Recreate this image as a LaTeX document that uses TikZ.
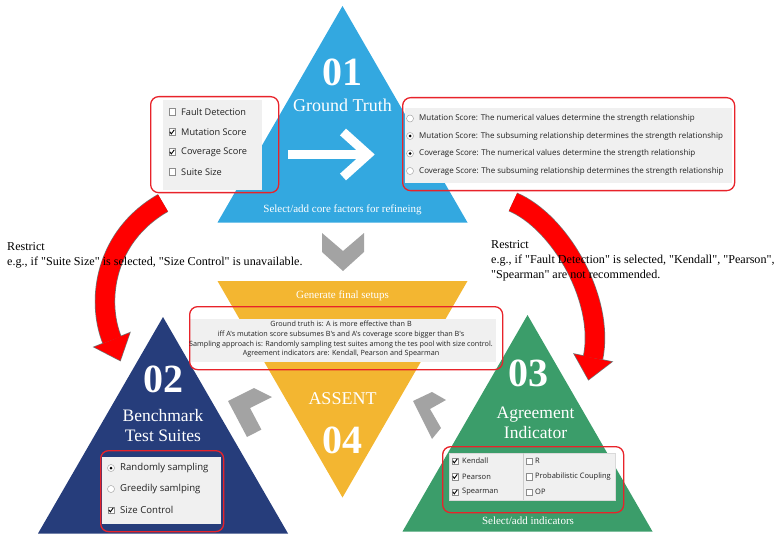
\documentclass[tikz,border=0pt]{standalone}
\usepackage{fontspec}
\setmainfont{Liberation Serif}
\newfontfamily\notefont{Liberation Serif}[Ligatures=TeXOff]
\newfontfamily\uifont{Open Sans}
\usetikzlibrary{calc}
\definecolor{gtblue}{HTML}{33A8E0}
\definecolor{asyellow}{HTML}{F3B631}
\definecolor{bnavy}{HTML}{263D7B}
\definecolor{aggreen}{HTML}{3B9D6A}
\definecolor{chevgray}{HTML}{A3A3A3}
\definecolor{panelgray}{HTML}{F0F0F0}
\definecolor{hlred}{HTML}{E8232A}
\definecolor{arrred}{HTML}{FF0000}
\definecolor{uitext}{HTML}{222222}
\tikzset{
  bignum/.style={text=white, font=\bfseries\fontsize{40}{40}\selectfont, inner sep=0pt},
  tritext/.style={text=white, font=\fontsize{17.5}{20}\selectfont, inner sep=0pt, align=center},
  foot/.style={text=white, font=\fontsize{11}{12}\selectfont, inner sep=0pt},
  panel/.style={fill=panelgray, draw=none, anchor=north west, inner sep=0pt, outer sep=0pt},
  hl/.style={draw=hlred, line width=1.3pt, rounded corners=8pt, anchor=north west, inner sep=0pt},
  item/.style={anchor=west, inner sep=0pt, text=uitext},
  lfont/.style={font=\uifont\fontsize{9.2}{10}\selectfont},
  rfont/.style={font=\uifont\fontsize{8}{9}\selectfont},
  bfont/.style={font=\uifont\fontsize{9.6}{11}\selectfont},
  afont/.style={font=\uifont\fontsize{7.5}{9}\selectfont},
  cbox/.style={draw=black!45, fill=white, minimum size=6.5pt, inner sep=0pt, line width=0.5pt},
  radio/.style={circle, draw=black!35, fill=white, minimum size=7pt, inner sep=0pt, line width=0.5pt},
  chev/.style={fill=chevgray, draw=none},
  note/.style={anchor=west, inner sep=0pt, font=\notefont\fontsize{12.1}{15}\selectfont, align=left},
  pics/tick/.style={code={\draw[line width=0.9pt, black] (-2.2,-0.2) -- (-0.7,1.9) -- (2.3,-2.2);}},
  pics/dot/.style={code={\fill[black] (0,0) circle (1.5pt);}},
}
\begin{document}
\begin{tikzpicture}[x=1pt,y=-1pt]
\useasboundingbox (0,0) rectangle (783,537);
% ---- triangles
\coordinate (gtA) at (342.5,6);   \coordinate (gtB) at (467.5,222.5); \coordinate (gtC) at (217.5,222.5);
\coordinate (asA) at (217.5,281); \coordinate (asB) at (467.5,281);   \coordinate (asC) at (342.5,497.5);
\coordinate (btA) at (163,317);   \coordinate (btB) at (288,533.5);   \coordinate (btC) at (38,533.5);
\coordinate (aiA) at (527.5,315); \coordinate (aiB) at (652.5,531.5); \coordinate (aiC) at (402.5,531.5);
\fill[gtblue] (gtA) -- (gtB) -- (gtC) -- cycle;
\fill[asyellow] (asA) -- (asB) -- (asC) -- cycle;
\fill[bnavy] (btA) -- (btB) -- (btC) -- cycle;
\fill[aggreen] (aiA) -- (aiB) -- (aiC) -- cycle;
% ---- triangle texts
\node[bignum] (n1) at (342.5,72) {01};
\node[tritext, font=\fontsize{18}{21}\selectfont] (gtl) at (342.5,105) {Ground Truth};
\node[foot] (gtf) at (342.5,210) {Select/add core factors for refineing};
\node[foot] (asf) at (342.5,296) {Generate final setups};
\node[tritext, font=\fontsize{18}{21}\selectfont] (asl) at (342.5,399) {ASSENT};
\node[bignum] (n4) at (342.5,440) {04};
\node[bignum] (n2) at (163,379) {02};
\node[tritext] (btl) at (163,426) {Benchmark\\Test Suites};
\node[bignum] (n3) at (528,373) {03};
\node[tritext] (ail) at (535.5,423) {Agreement\\Indicator};
\node[foot] (aif) at (528,521) {Select/add indicators};
% ---- white arrow inside 01
\coordinate (wa0) at (288,154.5); \coordinate (wa1) at (366,154.5);
\draw[white, line width=9.5pt] (wa0) -- (wa1);
\draw[white, line width=9pt, miter limit=10] (343,132) -- (368,154.5) -- (343,177);
% ---- gray chevrons
\fill[chev] (322,233) -- (343,251) -- (364,233) -- (364,252) -- (343,271) -- (322,252) -- cycle;
\fill[chev] (228,401) -- (254,388) -- (272,397) -- (250,408) -- (261.4,429.6) -- (247,437) -- cycle;
\fill[chev] (413,401) -- (432,392) -- (446,400) -- (430,409) -- (441,428) -- (432,439) -- cycle;
% ---- left panel (factors)
\node[panel, minimum width=99pt, minimum height=90pt] (lp) at (163,100) {};
\node[hl, minimum width=128pt, minimum height=96pt] (lh) at (150,96) {};
\node[cbox] (lc1) at (172,112) {}; \node[item, lfont] (lt1) at (181,112) {Fault Detection};
\node[cbox] (lc2) at (172,132) {}; \node[item, lfont] (lt2) at (181,132) {Mutation Score};
\node[cbox] (lc3) at (172,152) {}; \node[item, lfont] (lt3) at (181,152) {Coverage Score};
\node[cbox] (lc4) at (172,172) {}; \node[item, lfont] (lt4) at (181,172) {Suite Size};
\pic at (lc2.center) {tick}; \pic at (lc3.center) {tick};
% ---- right panel (strength relationship)
\node[panel, minimum width=327pt, minimum height=75pt] (rp) at (405,108) {};
\node[hl, minimum width=332pt, minimum height=93pt] (rh) at (402,97) {};
\node[radio] (rr1) at (410,118.5) {}; \node[item, rfont] (rt1) at (419,118.5) {Mutation Score: The numerical values determine the strength relationship};
\node[radio] (rr2) at (410,136) {};   \node[item, rfont] (rt2) at (419,136) {Mutation Score: The subsuming relationship determines the strength relationship};
\node[radio] (rr3) at (410,153.5) {}; \node[item, rfont] (rt3) at (419,153.5) {Coverage Score: The numerical values determine the strength relationship};
\node[radio] (rr4) at (410,171) {};   \node[item, rfont] (rt4) at (419,171) {Coverage Score: The subsuming relationship determines the strength relationship};
\pic at (rr2.center) {dot}; \pic at (rr3.center) {dot};
% ---- middle panel (final setups)
\node[panel, minimum width=306pt, minimum height=43pt] (mp) at (190,319) {};
\node[hl, minimum width=313pt, minimum height=63pt] (mh) at (189,306) {};
\node[text=uitext, inner sep=0pt, align=center, font=\uifont\fontsize{7.2}{9.7}\selectfont] (mt) at (341,339.5)
 {Ground truth is: A is more effective than B\\iff A's mutation score subsumes B's and A's coverage score bigger than B's\\Sampling approach is: Randomly sampling test suites among the tes pool with size control.\\Agreement indicators are: Kendall, Pearson and Spearman};
% ---- benchmark panel
\node[panel, minimum width=119pt, minimum height=67pt] (bp) at (102,457) {};
\node[hl, minimum width=123pt, minimum height=81pt] (bh) at (100,450) {};
\node[radio] (br1) at (111,468) {}; \node[item, bfont] (bt1) at (120,468) {Randomly sampling};
\node[radio] (br2) at (111,489) {}; \node[item, bfont] (bt2) at (120,489) {Greedily samlping};
\node[cbox] (bc3) at (111,510) {};  \node[item, bfont] (bt3) at (120,510) {Size Control};
\pic at (br1.center) {dot}; \pic at (bc3.center) {tick};
% ---- agreement panel
\node[panel, minimum width=166pt, minimum height=47pt, draw=black!15, line width=0.4pt] (ap) at (449,453) {};
\coordinate (apd1) at (523,453); \coordinate (apd2) at (523,500);
\draw[black!20, line width=0.5pt] (apd1) -- (apd2);
\node[hl, minimum width=181pt, minimum height=66pt] (ah) at (442,446) {};
\node[cbox] (ac1) at (455,461) {};   \node[item, afont] (at1) at (462,461) {Kendall};
\node[cbox] (ac2) at (455,476.5) {}; \node[item, afont] (at2) at (462,476.5) {Pearson};
\node[cbox] (ac3) at (455,492) {};   \node[item, afont] (at3) at (462,492) {Spearman};
\node[cbox] (ac4) at (529,461) {};   \node[item, afont] (at4) at (535,461) {R};
\node[cbox] (ac5) at (529,476.5) {}; \node[item, afont] (at5) at (535,476.5) {Probabilistic Coupling};
\node[cbox] (ac6) at (529,492) {};   \node[item, afont] (at6) at (535,492) {OP};
\pic at (ac1.center) {tick}; \pic at (ac2.center) {tick}; \pic at (ac3.center) {tick};
% ---- red curved arrows
\coordinate (la0) at (163,203); \coordinate (la1) at (105,236); \coordinate (la2) at (96,300); \coordinate (la3) at (112,340);
\coordinate (lw1) at ($(la3)!19pt!90:(la2)$); \coordinate (lw2) at ($(la3)!19pt!-90:(la2)$); \coordinate (ltip) at ($(la3)!-22pt!(la2)$);
\coordinate (ra0) at (513,202); \coordinate (ra1) at (560,222); \coordinate (ra2) at (605,300); \coordinate (ra3) at (593,358);
\coordinate (rw1) at ($(ra3)!19pt!90:(ra2)$); \coordinate (rw2) at ($(ra3)!19pt!-90:(ra2)$); \coordinate (rtip) at ($(ra3)!-22pt!(ra2)$);
\draw[black!55, line width=20.4pt] (la0) .. controls (la1) and (la2) .. (la3);
\filldraw[black!55, line width=1.4pt] (lw1) -- (ltip) -- (lw2) -- cycle;
\draw[arrred, line width=19pt] (la0) .. controls (la1) and (la2) .. (la3);
\fill[arrred] (lw1) -- (ltip) -- (lw2) -- cycle;
\draw[black!55, line width=20.4pt] (ra0) .. controls (ra1) and (ra2) .. (ra3);
\filldraw[black!55, line width=1.4pt] (rw1) -- (rtip) -- (rw2) -- cycle;
\draw[arrred, line width=19pt] (ra0) .. controls (ra1) and (ra2) .. (ra3);
\fill[arrred] (rw1) -- (rtip) -- (rw2) -- cycle;
% ---- notes
\node[note] (nl) at (7,255.5) {Restrict\\e.g., if "Suite Size" is selected, "Size Control" is unavailable.};
\node[note] (nr) at (491,261) {Restrict\\e.g., if "Fault Detection" is selected, "Kendall", "Pearson",\\"Spearman" are not recommended.};
\end{tikzpicture}
\end{document}
